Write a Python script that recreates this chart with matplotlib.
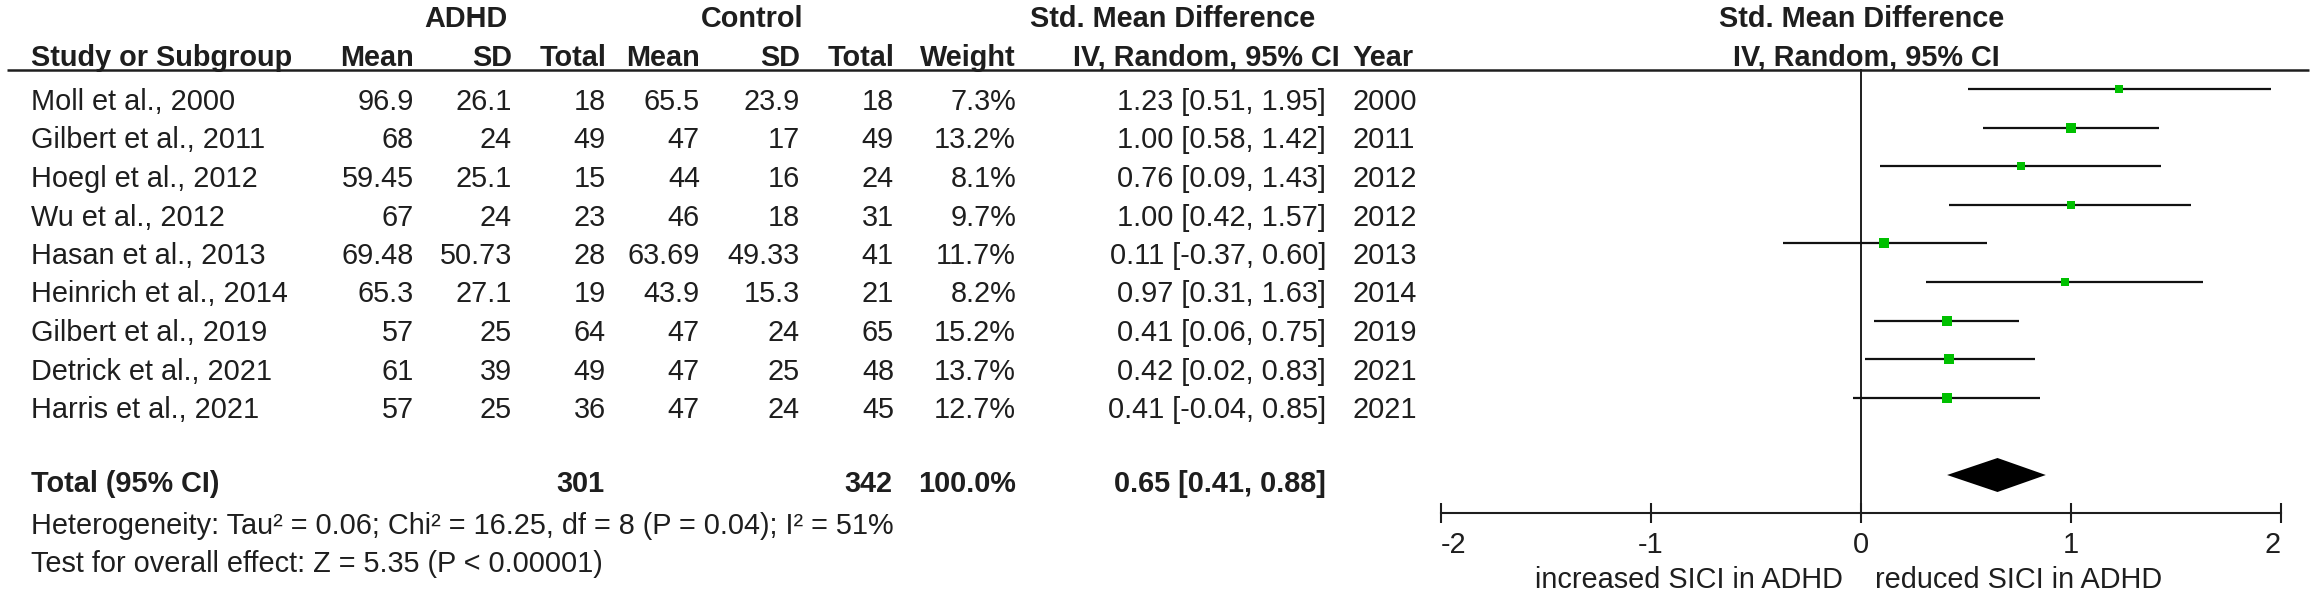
import numpy as np
import matplotlib
matplotlib.use("Agg")
import matplotlib.pyplot as plt

plt.rcParams['font.family'] = ['Liberation Sans', 'DejaVu Sans']

# data
studies = ["Moll et al., 2000", "Gilbert et al., 2011", "Hoegl et al., 2012",
           "Wu et al., 2012", "Hasan et al., 2013", "Heinrich et al., 2014",
           "Gilbert et al., 2019", "Detrick et al., 2021", "Harris et al., 2021"]
adhd_mean = [96.9, 68, 59.45, 67, 69.48, 65.3, 57, 61, 57]
adhd_sd = [26.1, 24, 25.1, 24, 50.73, 27.1, 25, 39, 25]
adhd_n = [18, 49, 15, 23, 28, 19, 64, 49, 36]
ctrl_mean = [65.5, 47, 44, 46, 63.69, 43.9, 47, 47, 47]
ctrl_sd = [23.9, 17, 16, 18, 49.33, 15.3, 24, 25, 24]
ctrl_n = [18, 49, 24, 31, 41, 21, 65, 48, 45]
weight = [7.3, 13.2, 8.1, 9.7, 11.7, 8.2, 15.2, 13.7, 12.7]
smd = [1.23, 1.00, 0.76, 1.00, 0.11, 0.97, 0.41, 0.42, 0.41]
ci_low = [0.51, 0.58, 0.09, 0.42, -0.37, 0.31, 0.06, 0.02, -0.04]
ci_high = [1.95, 1.42, 1.43, 1.57, 0.60, 1.63, 0.75, 0.83, 0.85]
years = [2000, 2011, 2012, 2012, 2013, 2014, 2019, 2021, 2021]

total_adhd = 301
total_ctrl = 342
total_weight = 100.0
pooled = 0.65
pooled_low = 0.41
pooled_high = 0.88
heterogeneity = "Heterogeneity: Tau\u00b2 = 0.06; Chi\u00b2 = 16.25, df = 8 (P = 0.04); I\u00b2 = 51%"
overall = "Test for overall effect: Z = 5.35 (P < 0.00001)"
ticks = [-2, -1, 0, 1, 2]
left_label = "increased SICI in ADHD"
right_label = "reduced SICI in ADHD"

W, H = 2320, 600
fs = 20.8
col = '#1e1e1e'
green = '#00c000'

fig = plt.figure(figsize=(W / 100, H / 100), dpi=100)

# table part, pixel coordinates
ax = fig.add_axes([0, 0, 1, 1])
ax.set_xlim(0, W)
ax.set_ylim(H, 0)
ax.axis('off')


def txt(x, y, s, ha='right', bold=False):
    ax.text(x, y, s, ha=ha, va='baseline', fontsize=fs, color=col,
            fontweight='bold' if bold else 'normal')


# group headers
txt(466, 27, "ADHD", ha='center', bold=True)
txt(752, 27, "Control", ha='center', bold=True)
txt(1173, 27, "Std. Mean Difference", ha='center', bold=True)
txt(1862, 27, "Std. Mean Difference", ha='center', bold=True)

# column headers
txt(31, 66, "Study or Subgroup", ha='left', bold=True)
for x, s in [(414, "Mean"), (512, "SD"), (606, "Total"), (700, "Mean"),
             (800, "SD"), (894, "Total"), (1016, "Weight"),
             (1340, "IV, Random, 95% CI")]:
    txt(x, 66, s, bold=True)
txt(1352, 66, "Year", ha='left', bold=True)
txt(1866, 66, "IV, Random, 95% CI", ha='center', bold=True)
ax.plot([7, 2309], [69.5, 69.5], color=col, lw=1.8, solid_capstyle='butt')

row_h = 38.5
for i, name in enumerate(studies):
    y = 110 + row_h * i
    txt(31, y, name, ha='left')
    txt(414, y, f"{adhd_mean[i]:g}")
    txt(512, y, f"{adhd_sd[i]:g}")
    txt(606, y, f"{adhd_n[i]}")
    txt(700, y, f"{ctrl_mean[i]:g}")
    txt(800, y, f"{ctrl_sd[i]:g}")
    txt(894, y, f"{ctrl_n[i]}")
    txt(1016, y, f"{weight[i]:.1f}%")
    txt(1326, y, f"{smd[i]:.2f} [{ci_low[i]:.2f}, {ci_high[i]:.2f}]")
    txt(1352, y, f"{years[i]}", ha='left')

yt = 492
txt(31, yt, "Total (95% CI)", ha='left', bold=True)
txt(604, yt, f"{total_adhd}", bold=True)
txt(892, yt, f"{total_ctrl}", bold=True)
txt(1016, yt, f"{total_weight:.1f}%", bold=True)
txt(1326, yt, f"{pooled:.2f} [{pooled_low:.2f}, {pooled_high:.2f}]", bold=True)
txt(31, 534, heterogeneity, ha='left')
txt(31, 572, overall, ha='left')

# forest plot
x0, x1 = 1441, 2281
top, bot = 69, 513
fx = fig.add_axes([x0 / W, (H - bot) / H, (x1 - x0) / W, (bot - top) / H])
fx.set_xlim(-2, 2)
step = 38.6
fx.set_ylim((bot - 89) / step, (top - 89) / step)
fx.patch.set_alpha(0)
for s in ['top', 'left', 'right']:
    fx.spines[s].set_visible(False)
fx.spines['bottom'].set_linewidth(1.5)
fx.spines['bottom'].set_color(col)
fx.set_yticks([])
fx.set_xticks(ticks)
fx.set_xticklabels([f"{t:d}" for t in ticks])
fx.tick_params(axis='x', direction='inout', length=14.4, width=1.5, colors=col,
               labelsize=fs, pad=6)
labels = fx.get_xticklabels()
labels[0].set_ha('left')
labels[-1].set_ha('right')

rows = np.arange(len(studies))
fx.axvline(0, color=col, lw=1.4)
fx.hlines(rows, ci_low, ci_high, color='#111111', lw=1.6)
for i in rows:
    side_px = 2.8 * np.sqrt(weight[i])
    fx.plot(smd[i], i, marker='s', color=green, markersize=side_px * 0.72,
            markeredgewidth=0, linestyle='none')

dy = 17 / step
yd = len(studies) + 1
fx.fill([pooled_low, pooled, pooled_high, pooled],
        [yd, yd - dy, yd, yd + dy], color='black', lw=0)

txt(1843, 588, left_label)
txt(1875, 588, right_label, ha='left')

fig.savefig("out.png", dpi=100)
